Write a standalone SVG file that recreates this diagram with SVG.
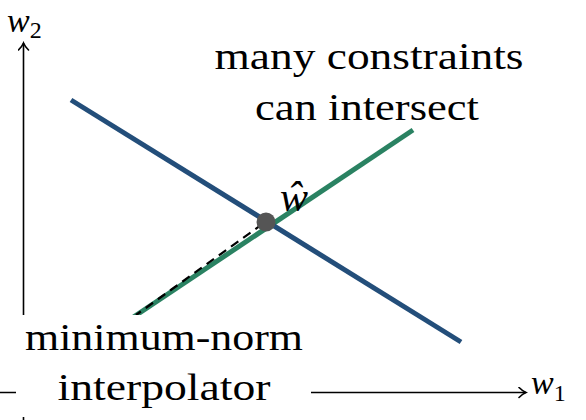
<svg xmlns="http://www.w3.org/2000/svg" width="586" height="420" viewBox="0 0 586 420">
  <style>
    .axis { stroke: #000; stroke-width: 1.6; fill: none; }
    .lbl { font-family: 'Liberation Serif', 'DejaVu Serif', serif; font-size: 38px; fill: #000; }
    .math { font-family: 'Liberation Serif', 'DejaVu Serif', serif; font-style: italic; font-size: 34px; fill: #000; }
    .sub { font-style: normal; font-size: 24px; }
  </style>
  <defs>
    <marker id="arr" viewBox="-8 -6 10 12" markerWidth="10" markerHeight="12" refX="0" refY="0" orient="auto" markerUnits="userSpaceOnUse">
      <path d="M -7 -5 C -4 -2 -1.5 -0.6 0 0 C -1.5 0.6 -4 2 -7 5" fill="none" stroke="#000" stroke-width="1.6" stroke-linecap="round"/>
    </marker>
  </defs>
  <rect width="586" height="420" fill="#fff"/>

  <g id="axes">
    <line class="axis" x1="0" y1="392.5" x2="526" y2="392.5" marker-end="url(#arr)"/>
    <line class="axis" x1="23.5" y1="420" x2="23.5" y2="43" marker-end="url(#arr)"/>
    <text class="math" x="7" y="32">w<tspan class="sub" dy="6">2</tspan></text>
    <text class="math" x="531" y="394">w<tspan class="sub" dy="7">1</tspan></text>
  </g>

  <g id="constraint-green">
    <line x1="132" y1="318" x2="413" y2="130" stroke="#2a8262" stroke-width="5"/>
  </g>
  <g id="constraint-blue">
    <line x1="71" y1="100" x2="461" y2="342" stroke="#234e7a" stroke-width="5"/>
  </g>

  <g id="connectors">
    <line x1="136" y1="315" x2="264" y2="223" stroke="#000" stroke-width="2.2" stroke-dasharray="9 6" stroke-dashoffset="3"/>
  </g>

  <g id="label-minnorm">
    <rect x="16" y="315" width="295" height="102" fill="#fff"/>
    <text class="lbl" x="164" y="350" text-anchor="middle" textLength="278" lengthAdjust="spacingAndGlyphs">minimum-norm</text>
    <text class="lbl" x="164" y="400" text-anchor="middle" textLength="213" lengthAdjust="spacingAndGlyphs">interpolator</text>
  </g>

  <g id="label-constraints">
    <text class="lbl" x="369" y="69" text-anchor="middle" textLength="309" lengthAdjust="spacingAndGlyphs">many constraints</text>
    <text class="lbl" x="367" y="120" text-anchor="middle" textLength="224" lengthAdjust="spacingAndGlyphs">can intersect</text>
  </g>

  <g id="point-what">
    <circle cx="266" cy="222" r="9.5" fill="#555"/>
    <text class="math" x="280" y="211" style="font-size:42px">ŵ</text>
  </g>
</svg>
